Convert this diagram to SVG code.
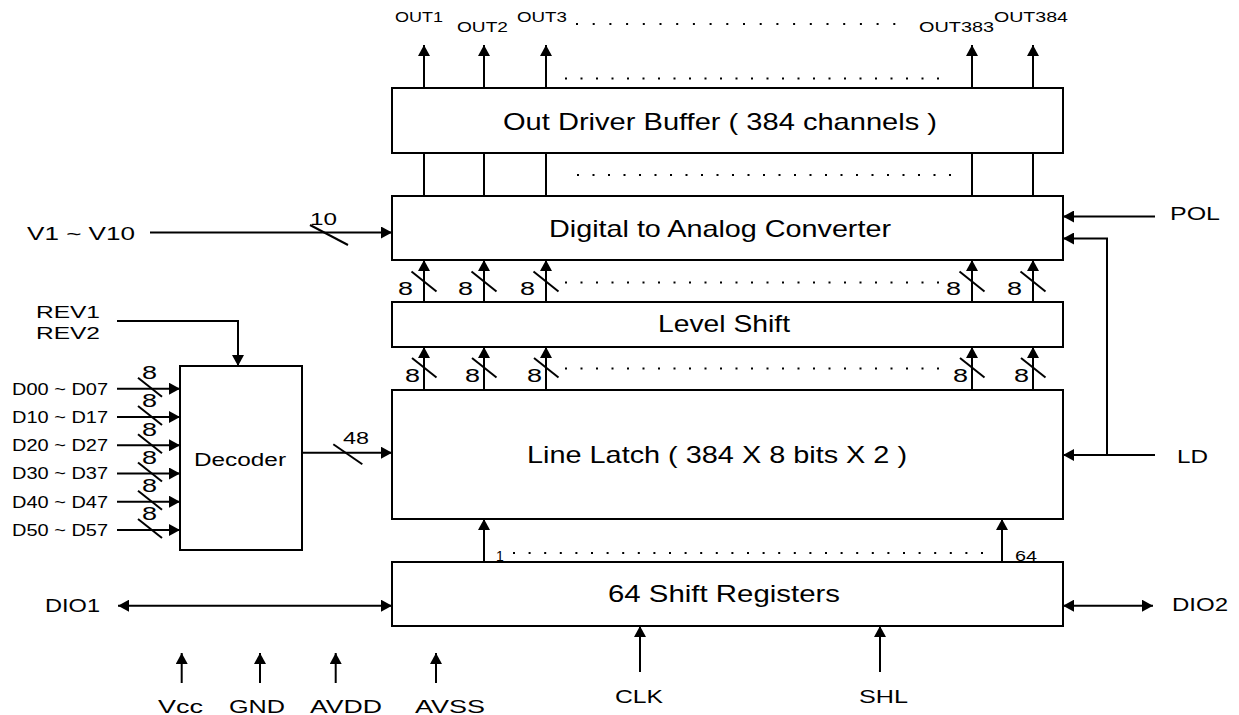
<svg xmlns="http://www.w3.org/2000/svg" width="1239" height="715" viewBox="0 0 1239 715">
<defs>
<marker id="ah" viewBox="0 0 11 12" refX="11" refY="6" markerWidth="11" markerHeight="12" markerUnits="userSpaceOnUse" orient="auto-start-reverse"><path d="M0,0 L11,6 L0,12 z" fill="#000"/></marker>
<style>
.box{fill:#fff;stroke:#000;stroke-width:2}
.ln{stroke:#000;stroke-width:2;fill:none}
.ar{marker-end:url(#ah)}
.da{marker-start:url(#ah);marker-end:url(#ah)}
.sl{stroke:#000;stroke-width:2}
.dot{stroke:#000;stroke-width:2;stroke-dasharray:2 13.5}
.dot2{stroke:#000;stroke-width:2;stroke-dasharray:2 14.7}
text{font-family:"Liberation Sans",Arial,sans-serif;fill:#000}
.t{font-size:24px}
.m{font-size:18px}
.s{font-size:14px}
.d{font-size:16px}
</style>
</defs>
<rect width="1239" height="715" fill="#fff"/>

<g id="connectors">
<line class="ln ar" x1="424" y1="88" x2="424" y2="45"/>
<line class="ln ar" x1="484" y1="88" x2="484" y2="45"/>
<line class="ln ar" x1="546" y1="88" x2="546" y2="45"/>
<line class="ln ar" x1="972" y1="88" x2="972" y2="45"/>
<line class="ln ar" x1="1033" y1="88" x2="1033" y2="45"/>
<line class="ln" x1="424" y1="153" x2="424" y2="196"/>
<line class="ln" x1="484" y1="153" x2="484" y2="196"/>
<line class="ln" x1="546" y1="153" x2="546" y2="196"/>
<line class="ln" x1="972" y1="153" x2="972" y2="196"/>
<line class="ln" x1="1033" y1="153" x2="1033" y2="196"/>
<line class="ln ar" x1="424" y1="302" x2="424" y2="260"/>
<line class="ln ar" x1="484" y1="302" x2="484" y2="260"/>
<line class="ln ar" x1="546" y1="302" x2="546" y2="260"/>
<line class="ln ar" x1="972" y1="302" x2="972" y2="260"/>
<line class="ln ar" x1="1033" y1="302" x2="1033" y2="260"/>
<line class="sl" x1="411.5" y1="271.5" x2="436.5" y2="291.5"/>
<line class="sl" x1="471.5" y1="271.5" x2="496.5" y2="291.5"/>
<line class="sl" x1="533.5" y1="271.5" x2="558.5" y2="291.5"/>
<line class="sl" x1="959.5" y1="271.5" x2="984.5" y2="291.5"/>
<line class="sl" x1="1020.5" y1="271.5" x2="1045.5" y2="291.5"/>
<line class="ln ar" x1="424" y1="390" x2="424" y2="347"/>
<line class="ln ar" x1="484" y1="390" x2="484" y2="347"/>
<line class="ln ar" x1="546" y1="390" x2="546" y2="347"/>
<line class="ln ar" x1="972" y1="390" x2="972" y2="347"/>
<line class="ln ar" x1="1033" y1="390" x2="1033" y2="347"/>
<line class="sl" x1="412" y1="358" x2="436.5" y2="377.5"/>
<line class="sl" x1="472" y1="358" x2="496.5" y2="377.5"/>
<line class="sl" x1="534" y1="358" x2="558.5" y2="377.5"/>
<line class="sl" x1="960" y1="358" x2="984.5" y2="377.5"/>
<line class="sl" x1="1021" y1="358" x2="1045.5" y2="377.5"/>
<line class="ln ar" x1="484" y1="562" x2="484" y2="519"/>
<line class="ln ar" x1="1002" y1="562" x2="1002" y2="519"/>
<line class="ln ar" x1="150" y1="232.5" x2="392" y2="232.5"/>
<line class="sl" x1="310" y1="225" x2="348" y2="245"/>
<line class="ln ar" x1="1155" y1="216.5" x2="1063" y2="216.5"/>
<line class="ln ar" x1="1155" y1="455" x2="1063" y2="455"/>
<polyline class="ln ar" points="1107,455 1107,238.5 1063,238.5"/>
<polyline class="ln ar" points="117,321 238,321 238,366"/>
<line class="ln ar" x1="117" y1="388.7" x2="180" y2="388.7"/>
<line class="ln ar" x1="117" y1="417" x2="180" y2="417"/>
<line class="ln ar" x1="117" y1="445.3" x2="180" y2="445.3"/>
<line class="ln ar" x1="117" y1="473.5" x2="180" y2="473.5"/>
<line class="ln ar" x1="117" y1="501.7" x2="180" y2="501.7"/>
<line class="ln ar" x1="117" y1="530" x2="180" y2="530"/>
<line class="sl" x1="138" y1="377.7" x2="162" y2="396.7"/>
<line class="sl" x1="138" y1="406" x2="162" y2="425"/>
<line class="sl" x1="138" y1="434.3" x2="162" y2="453.3"/>
<line class="sl" x1="138" y1="462.5" x2="162" y2="481.5"/>
<line class="sl" x1="138" y1="490.7" x2="162" y2="509.7"/>
<line class="sl" x1="138" y1="519" x2="162" y2="538"/>
<line class="ln ar" x1="302" y1="452.7" x2="392" y2="452.7"/>
<line class="sl" x1="333.3" y1="444.3" x2="362.3" y2="464.3"/>
<line class="ln da" x1="118" y1="605.7" x2="392" y2="605.7"/>
<line class="ln da" x1="1063" y1="605.7" x2="1153" y2="605.7"/>
<line class="ln ar" x1="640" y1="672" x2="640" y2="626"/>
<line class="ln ar" x1="880" y1="672" x2="880" y2="626"/>
<line class="ln ar" x1="181.7" y1="683" x2="181.7" y2="653"/>
<line class="ln ar" x1="260" y1="683" x2="260" y2="653"/>
<line class="ln ar" x1="335.7" y1="683" x2="335.7" y2="653"/>
<line class="ln ar" x1="436" y1="683" x2="436" y2="653"/>
<line class="dot2" x1="576" y1="24" x2="906" y2="24"/>
<line class="dot" x1="565" y1="78.5" x2="940" y2="78.5"/>
<line class="dot" x1="577" y1="175" x2="952" y2="175"/>
<line class="dot" x1="565" y1="282.5" x2="940" y2="282.5"/>
<line class="dot" x1="577" y1="302" x2="952" y2="302" style="stroke:#c8c8c8"/>
<line class="dot" x1="565" y1="368.5" x2="940" y2="368.5"/>
<line class="dot" x1="513" y1="553" x2="983" y2="553" style="stroke-dasharray:2 13.6"/>
</g>

<g id="out-driver-buffer">
<rect class="box" x="392" y="88" width="671" height="65"/>
<text class="t" x="503" y="129.5" textLength="434" lengthAdjust="spacingAndGlyphs">Out Driver Buffer ( 384 channels )</text>
</g>
<g id="dac">
<rect class="box" x="392" y="196" width="671" height="64"/>
<text class="t" x="549" y="236.5" textLength="342" lengthAdjust="spacingAndGlyphs">Digital to Analog Converter</text>
</g>
<g id="level-shift">
<rect class="box" x="392" y="302" width="671" height="45"/>
<text class="t" x="658" y="332" textLength="132" lengthAdjust="spacingAndGlyphs">Level Shift</text>
</g>
<g id="line-latch">
<rect class="box" x="392" y="390" width="671" height="129"/>
<text class="t" x="527" y="463" textLength="380" lengthAdjust="spacingAndGlyphs">Line Latch ( 384 X 8 bits X 2 )</text>
</g>
<g id="shift-registers">
<rect class="box" x="392" y="562" width="671" height="64"/>
<text class="t" x="608" y="601.5" textLength="232" lengthAdjust="spacingAndGlyphs">64 Shift Registers</text>
</g>
<g id="decoder">
<rect class="box" x="180" y="366" width="122" height="184"/>
<text x="194" y="466" font-size="18" textLength="92" lengthAdjust="spacingAndGlyphs">Decoder</text>
</g>

<g id="labels">
<text class="s" x="395" y="22" textLength="48" lengthAdjust="spacingAndGlyphs">OUT1</text>
<text class="s" x="457" y="32" textLength="51" lengthAdjust="spacingAndGlyphs">OUT2</text>
<text class="s" x="517" y="22" textLength="50" lengthAdjust="spacingAndGlyphs">OUT3</text>
<text class="s" x="919" y="32" textLength="75" lengthAdjust="spacingAndGlyphs">OUT383</text>
<text class="s" x="994" y="22" textLength="74" lengthAdjust="spacingAndGlyphs">OUT384</text>

<text class="m" x="398" y="295" textLength="15" lengthAdjust="spacingAndGlyphs">8</text>
<text class="m" x="458" y="295" textLength="15" lengthAdjust="spacingAndGlyphs">8</text>
<text class="m" x="520" y="295" textLength="15" lengthAdjust="spacingAndGlyphs">8</text>
<text class="m" x="946" y="295" textLength="15" lengthAdjust="spacingAndGlyphs">8</text>
<text class="m" x="1007" y="295" textLength="15" lengthAdjust="spacingAndGlyphs">8</text>
<text class="m" x="405" y="381.5" textLength="15" lengthAdjust="spacingAndGlyphs">8</text>
<text class="m" x="465" y="381.5" textLength="15" lengthAdjust="spacingAndGlyphs">8</text>
<text class="m" x="527" y="381.5" textLength="15" lengthAdjust="spacingAndGlyphs">8</text>
<text class="m" x="953" y="381.5" textLength="15" lengthAdjust="spacingAndGlyphs">8</text>
<text class="m" x="1014" y="381.5" textLength="15" lengthAdjust="spacingAndGlyphs">8</text>

<text class="s" x="496" y="561">1</text>
<text class="s" x="1015" y="561" textLength="22" lengthAdjust="spacingAndGlyphs">64</text>

<text class="m" x="27" y="239.5" textLength="108" lengthAdjust="spacingAndGlyphs">V1 ~ V10</text>
<text x="310" y="225" font-size="17" textLength="27" lengthAdjust="spacingAndGlyphs">10</text>
<text class="m" x="1170" y="219.5" textLength="50" lengthAdjust="spacingAndGlyphs">POL</text>
<text class="m" x="1177" y="463" textLength="31" lengthAdjust="spacingAndGlyphs">LD</text>

<text x="36" y="317.5" font-size="16" textLength="64" lengthAdjust="spacingAndGlyphs">REV1</text>
<text x="36" y="338.5" font-size="16" textLength="64" lengthAdjust="spacingAndGlyphs">REV2</text>

<text class="d" x="12" y="394.5" textLength="96" lengthAdjust="spacingAndGlyphs">D00 ~ D07</text>
<text class="d" x="12" y="422.8" textLength="96" lengthAdjust="spacingAndGlyphs">D10 ~ D17</text>
<text class="d" x="12" y="451.1" textLength="96" lengthAdjust="spacingAndGlyphs">D20 ~ D27</text>
<text class="d" x="12" y="479.3" textLength="96" lengthAdjust="spacingAndGlyphs">D30 ~ D37</text>
<text class="d" x="12" y="507.5" textLength="96" lengthAdjust="spacingAndGlyphs">D40 ~ D47</text>
<text class="d" x="12" y="535.8" textLength="96" lengthAdjust="spacingAndGlyphs">D50 ~ D57</text>
<text class="m" x="142" y="379" textLength="15" lengthAdjust="spacingAndGlyphs">8</text>
<text class="m" x="142" y="407.3" textLength="15" lengthAdjust="spacingAndGlyphs">8</text>
<text class="m" x="142" y="435.6" textLength="15" lengthAdjust="spacingAndGlyphs">8</text>
<text class="m" x="142" y="463.8" textLength="15" lengthAdjust="spacingAndGlyphs">8</text>
<text class="m" x="142" y="492" textLength="15" lengthAdjust="spacingAndGlyphs">8</text>
<text class="m" x="142" y="520.3" textLength="15" lengthAdjust="spacingAndGlyphs">8</text>
<text x="343" y="444" font-size="16" textLength="26" lengthAdjust="spacingAndGlyphs">48</text>

<text class="m" x="45" y="612" textLength="55" lengthAdjust="spacingAndGlyphs">DIO1</text>
<text class="m" x="1172" y="611" textLength="56" lengthAdjust="spacingAndGlyphs">DIO2</text>
<text class="m" x="615" y="702.5" textLength="48" lengthAdjust="spacingAndGlyphs">CLK</text>
<text class="m" x="859" y="702.5" textLength="49" lengthAdjust="spacingAndGlyphs">SHL</text>
<text class="m" x="158" y="712.5" textLength="45" lengthAdjust="spacingAndGlyphs">Vcc</text>
<text class="m" x="229" y="712.5" textLength="56" lengthAdjust="spacingAndGlyphs">GND</text>
<text class="m" x="310" y="712.5" textLength="72" lengthAdjust="spacingAndGlyphs">AVDD</text>
<text class="m" x="415" y="712.5" textLength="70" lengthAdjust="spacingAndGlyphs">AVSS</text>
</g>
</svg>
